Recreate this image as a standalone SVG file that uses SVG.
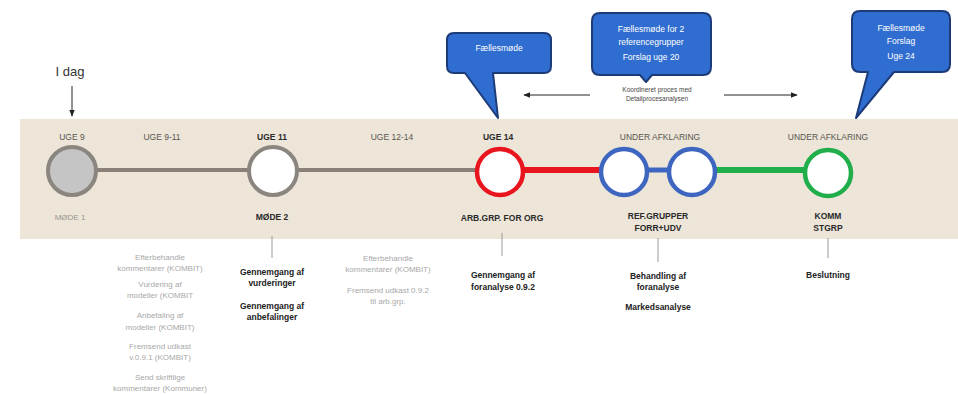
<svg xmlns="http://www.w3.org/2000/svg" width="958" height="394" viewBox="0 0 958 394">
<style>
text{font-family:"Liberation Sans",Arial,sans-serif;text-anchor:middle}
.wk{font-size:8.5px;fill:#5a5550}
.lb{font-size:8.5px;font-weight:bold;fill:#2a2a2a}
.gr{font-size:8px;fill:#a8a8a8}
.bd{font-size:8.5px;font-weight:bold;fill:#222}
.co{font-size:8.5px;fill:#ffffff}
.callout{fill:#2f6dd0;stroke:#1d3b78;stroke-width:2;stroke-linejoin:round}
.tick{stroke:#9a9a9a;stroke-width:1}
</style>
<defs>
<marker id="ah" viewBox="0 0 10 10" refX="9" refY="5" markerWidth="7" markerHeight="7" orient="auto-start-reverse">
<path d="M0,1 L10,5 L0,9 z" fill="#222"/>
</marker>
</defs>
<rect x="0" y="0" width="958" height="394" fill="#ffffff"/>
<rect x="20" y="119" width="938" height="120" fill="#ece5d8"/>

<g id="connectors">
<line x1="96" y1="170" x2="249" y2="170" stroke="#8a8078" stroke-width="4"/>
<line x1="297" y1="170" x2="477" y2="170" stroke="#8a8078" stroke-width="4"/>
<line x1="523" y1="170" x2="601" y2="170" stroke="#e8151e" stroke-width="6"/>
<line x1="647" y1="170" x2="669" y2="170" stroke="#3e66c0" stroke-width="5"/>
<line x1="715" y1="170" x2="805" y2="170" stroke="#1fae4a" stroke-width="6"/>
<line x1="72" y1="86" x2="72" y2="116" stroke="#222" stroke-width="1" marker-end="url(#ah)"/>
<line x1="590" y1="95" x2="524" y2="95" stroke="#222" stroke-width="1" marker-end="url(#ah)"/>
<line x1="724" y1="95" x2="797" y2="95" stroke="#222" stroke-width="1" marker-end="url(#ah)"/>
<line class="tick" x1="272" y1="236" x2="272" y2="258"/>
<line class="tick" x1="502" y1="233" x2="502" y2="256"/>
<line class="tick" x1="658" y1="238" x2="658" y2="262"/>
<line class="tick" x1="828" y1="238" x2="828" y2="258"/>
</g>

<g id="idag">
<text x="70" y="76" style="font-size:13px;fill:#333">I dag</text>
</g>

<g id="m1">
<text class="wk" x="72" y="140">UGE 9</text>
<circle cx="72" cy="171" r="24" fill="#c5c5c5" stroke="#8a857e" stroke-width="4"/>
<text class="gr" x="70" y="220" style="fill:#9a958e">MØDE 1</text>
</g>
<g id="p1"><text class="wk" x="162" y="140">UGE 9-11</text></g>
<g id="m2">
<text class="lb" x="272" y="140">UGE 11</text>
<circle cx="273" cy="171" r="24" fill="#ffffff" stroke="#8a857e" stroke-width="4"/>
<text class="lb" x="272" y="220">MØDE 2</text>
</g>
<g id="p2"><text class="wk" x="392" y="140">UGE 12-14</text></g>
<g id="m3">
<text class="lb" x="498" y="140">UGE 14</text>
<circle cx="500" cy="172" r="23" fill="#ffffff" stroke="#e8151e" stroke-width="4.5"/>
<text class="lb" x="502" y="221">ARB.GRP. FOR ORG</text>
</g>
<g id="m4">
<text class="wk" x="660" y="140">UNDER AFKLARING</text>
<circle cx="624" cy="172" r="23" fill="#ffffff" stroke="#3e66c0" stroke-width="4.5"/>
<circle cx="692" cy="172" r="23" fill="#ffffff" stroke="#3e66c0" stroke-width="4.5"/>
<text class="lb" x="658" y="219">REF.GRUPPER</text>
<text class="lb" x="658" y="231">FORR+UDV</text>
</g>
<g id="m5">
<text class="wk" x="828" y="140">UNDER AFKLARING</text>
<circle cx="828" cy="173" r="23" fill="#ffffff" stroke="#1fae4a" stroke-width="4.5"/>
<text class="lb" x="828" y="219">KOMM</text>
<text class="lb" x="828" y="231">STGRP</text>
</g>

<g id="tasks-left">
<text class="gr" x="160" y="260">Efterbehandle</text>
<text class="gr" x="160" y="271">kommentarer (KOMBIT)</text>
<text class="gr" x="160" y="287">Vurdering af</text>
<text class="gr" x="160" y="298">modeller (KOMBIT</text>
<text class="gr" x="160" y="318">Anbefaling af</text>
<text class="gr" x="160" y="330">modeller (KOMBIT)</text>
<text class="gr" x="160" y="349">Fremsend udkast</text>
<text class="gr" x="160" y="360">v.0.9.1 (KOMBIT)</text>
<text class="gr" x="160" y="380">Send skriftlige</text>
<text class="gr" x="160" y="391">kommentarer (Kommuner)</text>
</g>
<g id="tasks-m2">
<text class="bd" x="272" y="275">Gennemgang af</text>
<text class="bd" x="272" y="286">vurderinger</text>
<text class="bd" x="272" y="309">Gennemgang af</text>
<text class="bd" x="272" y="320">anbefalinger</text>
</g>
<g id="tasks-mid">
<text class="gr" x="388" y="261">Efterbehandle</text>
<text class="gr" x="388" y="272">kommentarer (KOMBIT)</text>
<text class="gr" x="388" y="293">Fremsend udkast 0.9.2</text>
<text class="gr" x="388" y="304">til arb.grp.</text>
</g>
<g id="tasks-m3">
<text class="bd" x="503" y="278">Gennemgang af</text>
<text class="bd" x="503" y="290">foranalyse 0.9.2</text>
</g>
<g id="tasks-m4">
<text class="bd" x="658" y="279">Behandling af</text>
<text class="bd" x="658" y="290">foranalyse</text>
<text class="bd" x="658" y="310">Markedsanalyse</text>
</g>
<g id="tasks-m5">
<text class="bd" x="828" y="278">Beslutning</text>
</g>

<g id="coord">
<text x="657" y="92" style="font-size:6.5px;fill:#444">Koordineret proces med</text>
<text x="657" y="101" style="font-size:6.5px;fill:#444">Detailprocesanalysen</text>
</g>

<g id="callout1">
<path class="callout" d="M454,33 H544 Q551,33 551,40 V66 Q551,73 544,73 H493 L498,118 L465,73 H454 Q447,73 447,66 V40 Q447,33 454,33 Z"/>
<text class="co" x="499" y="51">Fællesmøde</text>
</g>
<g id="callout2">
<path class="callout" d="M600,13 H703 Q711,13 711,21 V67 Q711,75 703,75 H652 L646,82 L640,75 H600 Q592,75 592,67 V21 Q592,13 600,13 Z"/>
<text class="co" x="651" y="32">Fællesmøde for 2</text>
<text class="co" x="651" y="45">referencegrupper</text>
<text class="co" x="651" y="60">Forslag uge 20</text>
</g>
<g id="callout3">
<path class="callout" d="M860,11 H942 Q950,11 950,19 V64 Q950,72 942,72 H894 L856,118 L868,72 H860 Q852,72 852,64 V19 Q852,11 860,11 Z"/>
<text class="co" x="901" y="31">Fællesmøde</text>
<text class="co" x="901" y="44">Forslag</text>
<text class="co" x="901" y="59">Uge 24</text>
</g>
</svg>
